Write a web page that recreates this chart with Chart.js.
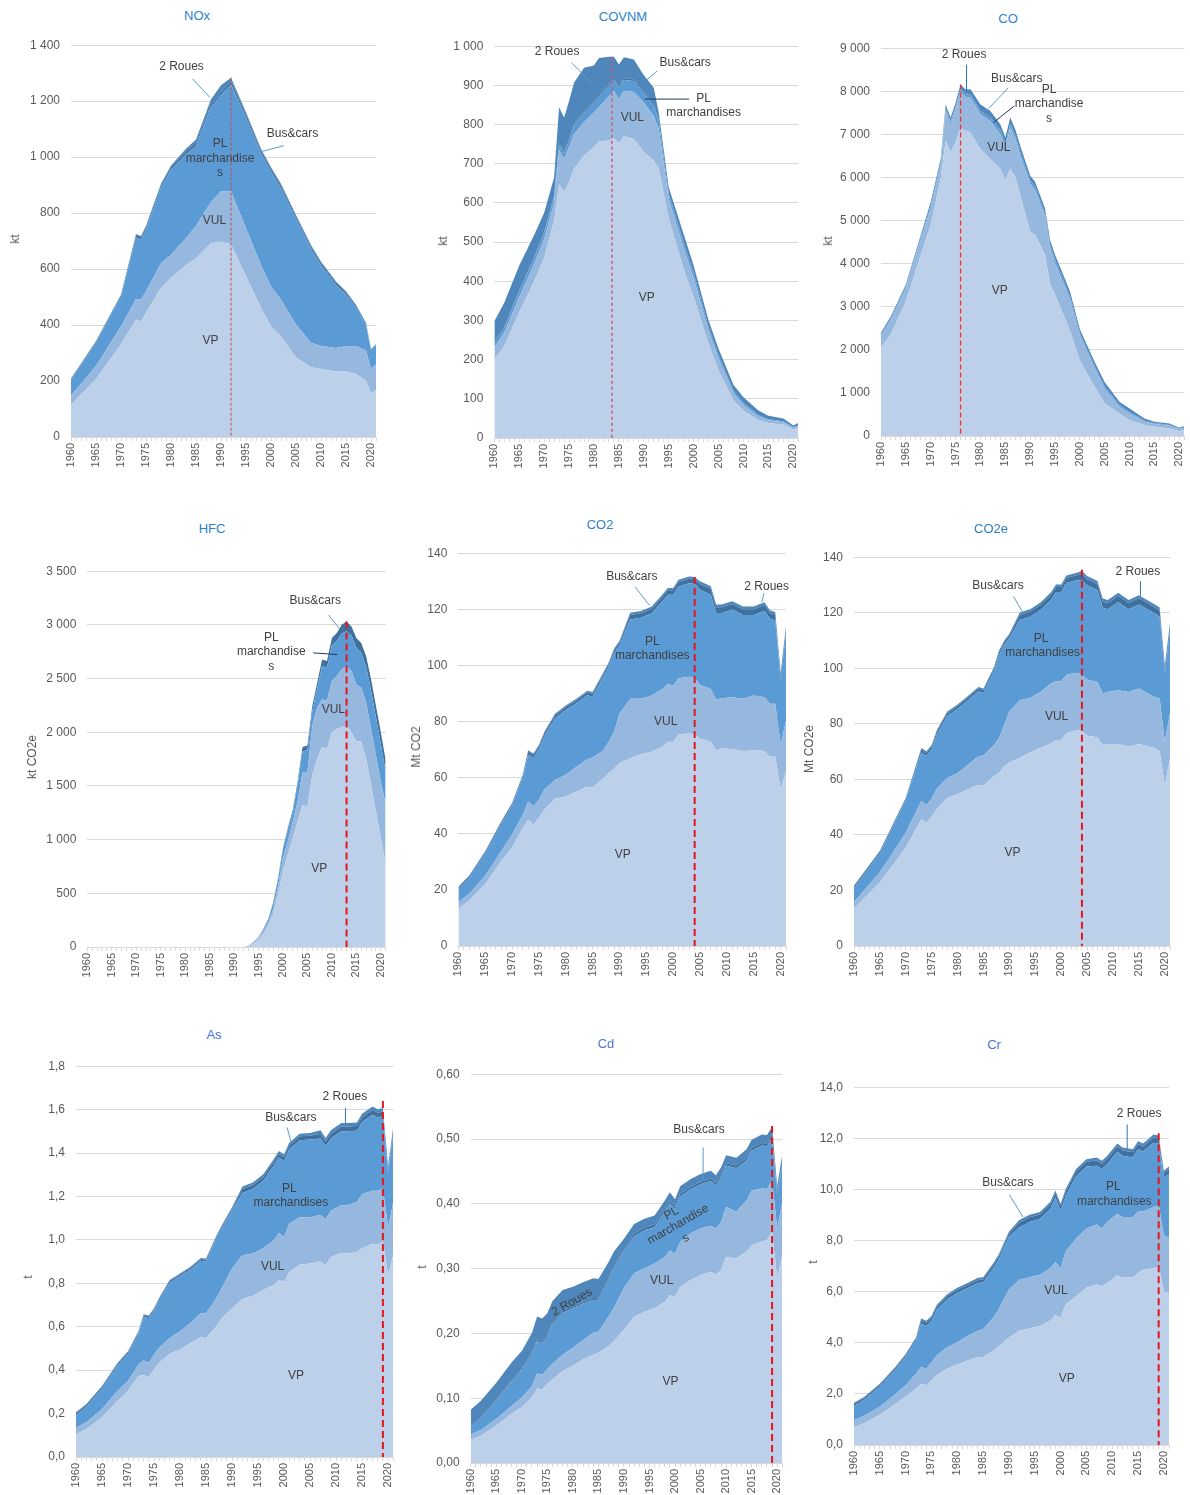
<!DOCTYPE html>
<html lang="fr">
<head>
<meta charset="utf-8">
<title>Émissions du transport routier par catégorie de véhicules</title>
<script src="https://cdn.jsdelivr.net/npm/chart.js@4/dist/chart.umd.min.js"></script>
<style>
  body{margin:0;background:#fff;}
  #page{position:relative;width:1190px;height:1495px;overflow:hidden;font-family:"Liberation Sans",Arial,sans-serif;}
  canvas{position:absolute;}
  .titre{position:absolute;transform:translate(-50%,-50%);font-size:13px;white-space:nowrap;}
  .unite{position:absolute;transform:translate(-50%,-50%) rotate(-90deg);font-size:12px;color:#595959;white-space:nowrap;}
</style>
</head>
<body>
<div id="page"></div>
<script>
// ---- series (bas -> haut) : VP, VUL, PL marchandises, Bus&cars, 2 Roues
const series = ["VP","VUL","PL marchandises","Bus&cars","2 Roues"];
const couleurs = ["#bdd0e9","#96b8de","#5b9bd5","#40709d","#4f87bd"];

// NOx (kt)
const noxYears = [1960,1965,1970,1973,1974,1975,1978,1980,1983,1985,1988,1990,1992,1995,1998,2000,2002,2005,2008,2010,2013,2015,2017,2019,2020,2021];
const noxVP    = [115,207,331,420,412,444,533,568,615,639,692,698,689,574,462,396,360,284,249,243,234,234,225,201,156,168];
const noxVUL   = [33,47,65,73,79,77,88,83,95,116,148,180,189,172,153,142,130,118,88,82,84,91,100,107,87,92];
const noxPL    = [56,83,105,220,215,222,270,304,300,286,337,345,382,396,399,410,399,377,335,289,226,185,139,92,65,65];
const noxBus   = [3,4,5,8,8,8,9,9,10,10,10,10,10,10,10,10,10,9,9,8,8,7,6,5,4,4];
const noxRoues = [2,2,3,4,4,4,5,6,10,12,20,24,14,8,6,6,6,5,5,5,4,4,3,3,2,2];

// COVNM (kt)
const covYears = [1960,1962,1965,1968,1970,1972,1973,1974,1975,1976,1978,1980,1981,1983,1984,1985,1986,1988,1990,1992,1993,1995,1998,2000,2003,2005,2008,2010,2013,2015,2018,2020,2021];
const covVP    = [199,235,320,400,460,555,647,628,653,687,721,742,757,759,765,752,770,763,730,708,687,560,430,360,240,172,96,70,45,38,34,22,26];
const covVUL   = [32,34,40,45,48,45,88,85,89,89,85,89,87,114,120,113,116,120,126,114,102,50,55,48,33,30,18,14,10,7,6,4,5];
const covPL    = [12,12,14,14,15,15,14,14,16,22,25,25,26,27,28,28,28,28,26,24,20,12,12,11,9,8,6,5,3,2,2,1,1];
const covBus   = [3,3,3,3,3,3,4,4,4,4,4,4,4,4,4,4,4,4,4,4,3,3,3,3,2,2,2,1,1,1,1,0.5,0.5];
const covRoues = [52,61,63,56,49,47,91,87,98,105,110,91,96,69,56,56,54,51,40,44,18,15,20,18,16,16,13,14,11,9,7,4.5,5.5];

// CO (kt)
const coYears = [1960,1962,1965,1968,1970,1972,1973,1974,1975,1976,1977,1978,1980,1982,1984,1985,1986,1987,1988,1990,1991,1993,1994,1995,1998,2000,2003,2005,2008,2010,2013,2015,2018,2020,2021];
const coVP    = [2056,2363,3130,4205,4895,5970,6852,6583,6814,7159,7082,7044,6660,6430,6200,5931,6200,6008,5586,4742,4665,4205,3514,3284,2440,1749,1136,752,522,368,253,215,176,110,138];
const coVUL   = [269,330,292,345,384,310,691,653,767,821,790,806,806,882,805,767,959,882,920,1112,1036,882,844,729,729,576,422,345,153,154,77,61,64,45,52];
const coPL    = [40,45,48,55,60,62,63,63,63,65,64,66,70,75,80,80,80,80,80,75,75,75,75,75,70,60,55,50,40,35,25,18,15,10,12];
const coBus   = [12,12,14,15,16,16,17,17,17,18,18,18,20,20,20,20,20,20,20,20,20,20,20,20,18,15,13,12,10,8,6,5,4,3,3];
const coRoues = [25,35,30,45,77,72,73,73,73,93,87,116,140,136,131,131,130,131,131,97,97,97,97,97,104,78,85,91,65,72,46,31,31,22,25];

// HFC (kt CO2e)
const hfcYears = [1960,1992,1993,1994,1995,1996,1997,1998,1999,2000,2001,2002,2003,2004,2005,2006,2007,2008,2009,2010,2011,2012,2013,2014,2015,2016,2017,2018,2019,2020,2021];
const hfcVP    = [0,0,6,30,68,123,200,308,492,708,862,1016,1170,1324,1308,1601,1754,1862,1847,2001,2031,2047,2062,2001,1914,1914,1754,1508,1262,1016,769];
const hfcVUL   = [0,0,4,8,15,27,31,46,77,123,123,154,184,307,323,461,477,446,446,477,493,539,554,569,533,502,524,523,523,523,555];
const hfcPL    = [0,0,4,6,7,15,24,51,63,74,103,85,156,189,204,138,179,312,307,332,326,334,324,330,343,324,332,359,355,351,306];
const hfcBus   = [0,0,1,2,2,4,7,10,14,18,20,22,29,42,42,47,52,58,63,68,74,81,92,86,88,92,99,103,107,111,109];
const hfcRoues = [0,0,0,0,0,0,0,0,0,0,0,0,0,0,0,0,0,0,0,0,0,0,0,0,0,0,0,0,0,0,0];

// CO2 (Mt CO2)
const co2Years = [1960,1962,1965,1968,1970,1972,1973,1974,1975,1976,1978,1980,1982,1984,1985,1987,1988,1989,1990,1992,1994,1996,1998,1999,2000,2001,2003,2004,2005,2007,2008,2009,2011,2013,2015,2017,2018,2019,2020,2021];
const co2VP    = [13.2,16.2,22.0,30.3,35.0,42.1,45.0,43.3,45.6,48.6,52.5,53.3,55.1,56.8,56.5,59.8,61.6,63.3,65.1,66.9,68.3,69.2,71.0,72.8,72.8,75.4,75.7,75.4,73.9,72.8,69.8,70.4,70.2,69.5,69.8,69.5,67.5,67.5,55.7,62.2];
const co2VUL   = [2.4,2.3,3.0,3.5,4.7,4.7,6.5,6.5,6.5,7.1,6.7,7.7,8.8,9.8,10.6,10.0,11.2,13.0,17.7,21.2,19.8,20.1,20.6,20.6,20.0,20.0,20.3,20.2,19.1,18.8,18.1,17.9,18.5,18.6,19.5,19.2,18.8,18.8,15.9,18.2];
const co2PL    = [4.6,5.6,7.9,9.8,10.4,13.3,16.7,17.2,17.9,19.0,22.0,23.1,22.6,22.8,21.8,26.1,26.6,28.1,24.3,28.3,28.9,29.3,31.3,31.8,32.4,32.7,33.3,33.5,34.0,33.6,30.8,30.4,31.2,29.9,28.7,30.8,30.4,29.7,23.6,31.0];
const co2Bus   = [0.6,0.6,0.6,0.6,0.6,0.6,1.0,1.0,1.0,1.0,1.0,1.0,1.0,1.0,1.0,1.0,1.0,1.0,1.0,1.6,1.6,1.6,1.6,1.6,1.6,1.6,1.6,1.6,2.0,2.0,2.0,2.0,2.0,2.0,2.0,2.0,2.0,2.0,1.5,1.7];
const co2Roues = [0.3,0.3,0.3,0.3,0.3,0.3,0.6,0.6,0.6,0.6,0.6,0.6,0.6,0.6,0.6,0.6,0.6,0.6,0.6,0.8,0.8,0.8,0.8,0.8,0.8,0.8,0.8,0.8,1.0,1.0,1.0,1.0,1.0,1.0,1.0,1.0,1.0,1.0,0.8,0.9];

// CO2e (Mt CO2e)
const co2eYears = [1960,1965,1970,1973,1974,1975,1976,1978,1980,1982,1984,1985,1987,1988,1989,1990,1992,1994,1996,1998,1999,2000,2001,2003,2004,2005,2007,2008,2009,2011,2013,2015,2018,2019,2020,2021];
const co2eVP    = [13.5,23.0,35.5,45.6,44.4,46.5,49.2,53.4,54.6,56.4,58.1,57.9,61.1,62.3,64.7,66.2,67.7,69.8,71.3,73.0,74.2,74.2,76.6,77.8,77.4,75.8,75.1,72.4,72.7,72.7,71.8,72.7,71.3,70.1,57.5,67.7];
const co2eVUL   = [2.3,3.6,5.4,6.6,6.4,6.6,7.5,7.1,7.7,8.9,10.2,10.7,11.3,12.5,14.9,18.2,20.8,19.6,20.2,21.5,21.1,21.1,21.1,20.6,20.4,20.2,20.0,18.5,18.8,19.4,19.7,20.0,18.4,19.0,16.1,16.1];
const co2ePL    = [5.1,6.8,11.6,17.5,17.7,17.7,19.5,22.3,23.1,23.1,23.4,22.5,26.4,30.0,28.8,26.4,28.9,29.2,29.5,30.1,32.2,32.2,33.0,33.3,33.9,33.9,33.0,30.9,29.8,31.8,29.8,30.3,30.1,29.5,24.8,29.8];
const co2eBus   = [0.6,0.6,0.6,1.0,1.0,1.0,1.0,1.0,1.0,1.0,1.0,1.0,1.0,1.0,1.0,1.0,1.8,1.8,1.8,1.8,1.8,1.8,1.8,1.8,2.2,2.2,2.2,2.2,2.2,2.2,2.2,2.2,2.2,2.2,1.7,1.9];
const co2eRoues = [0.3,0.3,0.3,0.6,0.6,0.6,0.6,0.6,0.6,0.6,0.6,0.6,0.6,0.6,0.6,0.6,0.9,0.9,0.9,0.9,0.9,0.9,0.9,0.9,1.1,1.1,1.1,1.1,1.1,1.1,1.1,1.1,1.1,1.1,0.9,1.0];

// As (t)
const asYears = [1960,1962,1965,1968,1970,1972,1973,1974,1975,1976,1978,1980,1982,1984,1985,1987,1988,1990,1992,1994,1996,1998,1999,2000,2001,2003,2005,2007,2008,2009,2011,2012,2014,2015,2017,2018,2019,2020,2021];
const asVP    = [.104,.129,.183,.259,.305,.373,.378,.369,.404,.434,.475,.495,.525,.551,.548,.602,.640,.685,.728,.743,.769,.792,.815,.807,.853,.886,.891,.902,.883,.921,.941,.937,.944,.962,.982,.978,.990,.840,.929];
const asVUL   = [.030,.031,.038,.046,.045,.053,.067,.065,.068,.069,.073,.084,.092,.111,.114,.129,.137,.183,.201,.194,.193,.205,.217,.206,.221,.218,.213,.213,.213,.213,.219,.223,.229,.249,.244,.248,.247,.218,.244];
const asPL    = [.059,.071,.093,.116,.124,.140,.200,.205,.200,.218,.254,.253,.246,.242,.239,.276,.276,.269,.287,.297,.310,.344,.347,.350,.343,.355,.358,.352,.335,.333,.340,.340,.330,.332,.350,.338,.332,.252,.316];
const asBus   = [.008,.008,.008,.008,.008,.008,.008,.008,.008,.008,.008,.008,.008,.008,.008,.008,.008,.008,.018,.018,.018,.018,.018,.018,.018,.018,.018,.022,.022,.022,.022,.022,.022,.022,.022,.022,.022,.018,.020];
const asRoues = [.005,.005,.005,.005,.005,.005,.005,.005,.005,.005,.005,.005,.005,.005,.005,.005,.005,.005,.012,.012,.012,.012,.012,.012,.012,.012,.012,.016,.016,.016,.016,.016,.016,.016,.016,.016,.016,.012,.014];

// Cd (t)
const cdYears = [1960,1962,1965,1968,1970,1972,1973,1974,1975,1976,1978,1980,1982,1984,1985,1987,1988,1990,1992,1994,1996,1998,1999,2000,2001,2003,2005,2007,2008,2009,2010,2012,2014,2015,2017,2018,2019,2020,2021];
const cdVP    = [.036,.042,.058,.076,.086,.102,.115,.114,.122,.129,.142,.150,.160,.167,.170,.180,.188,.206,.226,.233,.239,.249,.259,.257,.272,.282,.290,.295,.291,.298,.318,.316,.326,.336,.342,.344,.356,.285,.321];
const cdVUL   = [.008,.009,.010,.012,.015,.017,.023,.022,.023,.024,.025,.028,.030,.034,.033,.046,.051,.064,.067,.067,.069,.069,.069,.066,.069,.072,.072,.071,.071,.074,.077,.072,.079,.084,.082,.079,.080,.077,.081];
const cdPL    = [.012,.018,.028,.038,.042,.049,.050,.049,.050,.061,.065,.061,.056,.051,.048,.056,.062,.057,.057,.059,.056,.070,.073,.068,.070,.068,.068,.069,.066,.068,.064,.067,.062,.062,.066,.066,.066,.053,.058];
const cdBus   = [.002,.002,.002,.002,.002,.003,.003,.003,.003,.003,.003,.003,.003,.003,.003,.003,.003,.003,.004,.004,.004,.004,.004,.004,.004,.004,.004,.004,.004,.004,.004,.004,.004,.004,.004,.004,.004,.003,.004];
const cdRoues = [.024,.025,.026,.027,.028,.030,.035,.035,.033,.033,.032,.030,.030,.030,.030,.025,.022,.016,.015,.014,.014,.013,.013,.012,.012,.012,.012,.012,.012,.012,.012,.012,.013,.013,.013,.013,.013,.010,.012];

// Cr (t)
const crYears = [1960,1962,1965,1968,1970,1972,1973,1974,1975,1976,1978,1980,1982,1984,1985,1987,1988,1990,1992,1994,1996,1998,1999,2000,2001,2003,2005,2007,2008,2009,2011,2012,2014,2015,2016,2018,2019,2020,2021];
const crVP    = [.70,.85,1.18,1.60,1.89,2.21,2.40,2.34,2.53,2.73,2.98,3.15,3.31,3.44,3.44,3.69,3.85,4.21,4.47,4.57,4.66,4.86,5.09,4.99,5.50,5.82,6.15,6.28,6.21,6.34,6.64,6.54,6.56,6.73,6.86,6.92,6.99,6.02,5.95];
const crVUL   = [.28,.29,.32,.39,.45,.58,.65,.64,.71,.77,.84,.87,.96,1.03,1.09,1.30,1.46,1.87,2.00,1.99,2.00,2.06,2.06,1.93,2.07,2.26,2.32,2.35,2.26,2.39,2.41,2.38,2.36,2.41,2.28,2.39,2.39,2.19,2.16];
const crPL    = [.55,.63,.78,.94,1.10,1.30,1.70,1.68,1.61,1.78,1.87,1.93,1.87,1.87,1.83,1.93,1.93,2.06,2.05,2.17,2.18,2.31,2.53,2.24,2.17,2.44,2.43,2.30,2.33,2.26,2.43,2.40,2.33,2.43,2.34,2.52,2.41,2.26,2.50];
const crBus   = [.07,.07,.07,.07,.07,.07,.12,.12,.12,.12,.12,.12,.12,.12,.12,.12,.12,.12,.18,.18,.18,.18,.18,.18,.18,.18,.18,.20,.20,.20,.20,.20,.20,.20,.20,.20,.20,.16,.18];
const crRoues = [.05,.05,.05,.05,.05,.05,.08,.08,.08,.08,.08,.08,.08,.08,.08,.08,.08,.08,.10,.10,.10,.10,.10,.10,.10,.10,.10,.12,.12,.12,.12,.12,.12,.12,.12,.12,.12,.10,.11];

const CLAIR = "#5b9bd5", FONCE = "#1f3864", MOYEN = "#2e75b6";
const ROUGE_FIN = {color:"#c0504d", w:1, dash:[3,2]};
const ROUGE = {color:"#e8141b", w:2, dash:[7,4]};

function milliers(v){ return String(v).replace(/\B(?=(\d{3})+(?!\d))/g, " "); }
function virgule(d){ return v => v.toFixed(d).replace(".", ","); }

const graphiques = [
  {titre:"NOx", coul:"#2b7fd0", unite:"kt", ux:15, uy:239, tx:197, ty:15,
   box:[71,42.3,376,436.7], max:1400, pas:200, fmt:milliers,
   years:noxYears, vals:[noxVP,noxVUL,noxPL,noxBus,noxRoues],
   pic:{an:1992, haut:1284, style:ROUGE_FIN},
   notes:[["2 Roues",1982.1,1325],["Bus&cars",2004.3,1083],["PL",1989.8,1047],["marchandise",1989.8,996],["s",1989.8,944],["VUL",1988.7,773],["VP",1987.9,343]],
   traits:[[1984.3,1280,1987.8,1213,CLAIR],[2002.6,1041,1998.1,1020,CLAIR]]},
  {titre:"COVNM", coul:"#2b7fd0", unite:"kt", ux:443, uy:241, tx:623, ty:16,
   box:[494.3,43.3,798.3,437.7], max:1000, pas:100, fmt:milliers,
   years:covYears, vals:[covVP,covVUL,covPL,covBus,covRoues],
   pic:{an:1983.6, haut:973, style:{color:"#d05a6e", w:1.5, dash:[3,3]}},
   notes:[["2 Roues",1972.6,985],["Bus&cars",1998.3,959],["PL",2002,866],["marchandises",2002,831],["VUL",1987.7,818],["VP",1990.6,358]],
   traits:[[1975.5,958,1979.7,903,CLAIR],[1992.7,937,1990.6,914,CLAIR],[1999.1,865,1990.2,865,FONCE]]},
  {titre:"CO", coul:"#2b7fd0", unite:"kt", ux:828, uy:241, tx:1008, ty:18,
   box:[881,45,1184.3,436], max:9000, pas:1000, fmt:milliers,
   years:coYears, vals:[coVP,coVUL,coPL,coBus,coRoues],
   pic:{an:1976, haut:8156, style:{color:"#ff2a2a", w:1.3, dash:[5,3]}},
   notes:[["2 Roues",1976.7,8847],["Bus&cars",1987.3,8287],["PL",1993.8,8026],["marchandise",1993.8,7711],["s",1993.8,7366],["VUL",1983.7,6683],["VP",1983.9,3376]],
   traits:[[1977.2,8617,1977.2,8003,MOYEN],[1985.6,8080,1981.6,7596,CLAIR],[1986.8,7658,1982.6,7274,FONCE]]},
  {titre:"HFC", coul:"#2b7fd0", unite:"kt CO2e", ux:32, uy:757, tx:212, ty:528,
   box:[87.3,567.7,385.7,946.7], max:3500, pas:500, fmt:milliers,
   years:hfcYears, vals:[hfcVP,hfcVUL,hfcPL,hfcBus,hfcRoues],
   pic:{an:2013, haut:3032, style:ROUGE},
   notes:[["Bus&cars",2006.6,3226],["PL",1997.6,2878],["marchandise",1997.6,2755],["s",1997.6,2610],["VUL",2010.3,2207],["VP",2007.4,729]],
   traits:[[2009.3,3093,2011.7,2955,CLAIR],[2006.2,2739,2011.1,2724,FONCE]]},
  {titre:"CO2", coul:"#2b7fd0", unite:"Mt CO2", ux:416, uy:747, tx:600, ty:524,
   box:[458.3,550,786,945.7], max:140, pas:20, fmt:milliers,
   years:co2Years, vals:[co2VP,co2VUL,co2PL,co2Bus,co2Roues],
   pic:{an:2004, haut:131.5, style:ROUGE},
   notes:[["Bus&cars",1992.3,131.7],["2 Roues",2017.4,128.2],["PL",1996.1,108.4],["marchandises",1996.1,103.4],["VUL",1998.6,80.1],["VP",1990.6,32.4]],
   traits:[[1992.9,128,1995.6,121.4,CLAIR],[2016.9,125.8,2016.5,122.5,CLAIR]]},
  {titre:"CO2e", coul:"#2b7fd0", unite:"Mt CO2e", ux:809, uy:749, tx:991, ty:528,
   box:[854,554.3,1170,946], max:140, pas:20, fmt:milliers,
   years:co2eYears, vals:[co2eVP,co2eVUL,co2ePL,co2eBus,co2eRoues],
   pic:{an:2004, haut:135.5, style:ROUGE},
   notes:[["Bus&cars",1987.8,129.9],["2 Roues",2014.8,134.9],["PL",1996.1,110.8],["marchandises",1996.4,105.6],["VUL",1999.1,82.6],["VP",1990.6,33.7]],
   traits:[[1990.8,125.8,1992.6,120.1,CLAIR],[2015.3,131.4,2015.3,126.1,MOYEN]]},
  {titre:"As", coul:"#4877d6", unite:"t", ux:28, uy:1277, tx:214, ty:1034,
   box:[76,1062.7,393.3,1456.7], max:1.8, pas:0.2, fmt:virgule(1),
   years:asYears, vals:[asVP,asVUL,asPL,asBus,asRoues],
   pic:{an:2019, haut:1.64, style:ROUGE},
   notes:[["2 Roues",2011.7,1.660],["Bus&cars",2001.3,1.564],["PL",2001,1.238],["marchandises",2001.3,1.170],["VUL",1997.8,0.876],["VP",2002.3,0.376]],
   traits:[[2011.8,1.607,2011.8,1.538,MOYEN],[2000.6,1.518,2001.3,1.454,CLAIR]]},
  {titre:"Cd", coul:"#4877d6", unite:"t", ux:422, uy:1267, tx:606, ty:1043,
   box:[470.7,1071,782.3,1462.7], max:0.6, pas:0.1, fmt:virgule(2),
   years:cdYears, vals:[cdVP,cdVUL,cdPL,cdBus,cdRoues],
   pic:{an:2019, haut:0.52, style:ROUGE},
   notes:[["Bus&cars",2004.7,0.515],["2 Roues",1979.8,0.248,-30],["PL",1999.3,0.385,-30],["marchandise",2000.6,0.368,-30],["s",2002.1,0.347,-30],["VUL",1997.4,0.281],["VP",1999.1,0.126]],
   traits:[[2005.5,0.487,2005.5,0.438,CLAIR]]},
  {titre:"Cr", coul:"#4877d6", unite:"t", ux:813, uy:1262, tx:994, ty:1044,
   box:[854,1084,1169,1445.3], max:14, pas:2, fmt:virgule(1),
   years:crYears, vals:[crVP,crVUL,crPL,crBus,crRoues],
   pic:{an:2019, haut:12.2, style:ROUGE},
   notes:[["2 Roues",2015.2,12.97],["Bus&cars",1989.8,10.25],["PL",2010.2,10.09],["marchandises",2010.4,9.51],["VUL",1999.1,6.02],["VP",2001.2,2.60]],
   traits:[[2012.9,12.54,2012.9,11.57,MOYEN],[1990.1,9.79,1992.7,8.92,CLAIR]]}
];

Chart.defaults.font.family = '"Liberation Sans", Arial, sans-serif';
Chart.defaults.font.size = 12;
Chart.defaults.color = "#595959";

const page = document.getElementById("page");
// marges réservées autour de la zone de tracé (l'étiquette x vide de 2021 demande ~16 px à droite)
const AXE_Y = 60, AXE_X = 42, HAUT = 15, DROITE = 20;

function habillage(g){
  return {
    id:"habillage",
    afterDatasetsDraw(chart){
      const {ctx, scales:{x, y}} = chart;
      ctx.save();
      const px = x.getPixelForValue(g.pic.an);
      ctx.strokeStyle = g.pic.style.color;
      ctx.lineWidth = g.pic.style.w;
      ctx.setLineDash(g.pic.style.dash);
      ctx.beginPath();
      ctx.moveTo(px, y.getPixelForValue(g.pic.haut));
      ctx.lineTo(px, y.getPixelForValue(0));
      ctx.stroke();
      ctx.setLineDash([]);
      ctx.lineWidth = 1;
      g.traits.forEach(([x1,y1,x2,y2,c]) => {
        ctx.strokeStyle = c;
        ctx.beginPath();
        ctx.moveTo(x.getPixelForValue(x1), y.getPixelForValue(y1));
        ctx.lineTo(x.getPixelForValue(x2), y.getPixelForValue(y2));
        ctx.stroke();
      });
      ctx.fillStyle = "#404040";
      ctx.font = '12px "Liberation Sans", Arial, sans-serif';
      ctx.textAlign = "center";
      ctx.textBaseline = "middle";
      g.notes.forEach(([t, xv, yv, rot]) => {
        ctx.save();
        ctx.translate(x.getPixelForValue(xv), y.getPixelForValue(yv));
        if (rot) ctx.rotate(rot * Math.PI / 180);
        ctx.fillText(t, 0, 0);
        ctx.restore();
      });
      ctx.restore();
    }
  };
}

graphiques.forEach(g => {
  const [l, t, r, b] = g.box;
  const left = Math.round(l - AXE_Y), top = Math.round(t - HAUT);
  const w = Math.round(r + DROITE) - left, h = Math.round(b + AXE_X) - top;

  const cv = document.createElement("canvas");
  cv.width = w; cv.height = h;
  cv.style.left = left + "px"; cv.style.top = top + "px";
  cv.style.width = w + "px"; cv.style.height = h + "px";
  page.appendChild(cv);

  const ti = document.createElement("div");
  ti.className = "titre"; ti.textContent = g.titre; ti.style.color = g.coul;
  ti.style.left = g.tx + "px"; ti.style.top = g.ty + "px";
  page.appendChild(ti);

  const un = document.createElement("div");
  un.className = "unite"; un.textContent = g.unite;
  un.style.left = g.ux + "px"; un.style.top = g.uy + "px";
  page.appendChild(un);

  const padL = (l - AXE_Y) - left, padT = (t - HAUT) - top;

  new Chart(cv, {
    type:"line",
    data:{
      datasets: series.map((nom, i) => ({
        label: nom,
        data: g.years.map((an, k) => ({x: an, y: g.vals[i][k]})),
        backgroundColor: couleurs[i],
        borderWidth: 0,
        pointRadius: 0,
        pointHoverRadius: 0,
        tension: 0,
        fill: i === 0 ? "origin" : "-1"
      }))
    },
    options:{
      responsive:false,
      devicePixelRatio:1,
      animation:false,
      layout:{autoPadding:false, padding:{top:HAUT + padT, right:w - (r - left), left:padL, bottom:0}},
      plugins:{legend:{display:false}, tooltip:{enabled:false}},
      scales:{
        x:{
          type:"linear", min:1960, max:2021,
          grid:{drawOnChartArea:false, drawTicks:true, tickLength:4, color:"#d9d9d9"},
          border:{display:true, color:"#d9d9d9"},
          ticks:{stepSize:1, autoSkip:false, maxRotation:90, minRotation:90, padding:2,
                 font:{size:11}, color:"#595959",
                 callback: v => (v % 5 === 0 ? String(v) : "")},
          afterFit: s => { s.height = AXE_X; }
        },
        y:{
          stacked:true, min:0, max:g.max,
          grid:{color:"#d9d9d9", drawTicks:false},
          border:{display:false},
          ticks:{stepSize:g.pas, padding:11, color:"#595959", callback: v => g.fmt(v)},
          afterFit: s => { s.width = AXE_Y; }
        }
      }
    },
    plugins:[habillage(g)]
  });
});
</script>
</body>
</html>
